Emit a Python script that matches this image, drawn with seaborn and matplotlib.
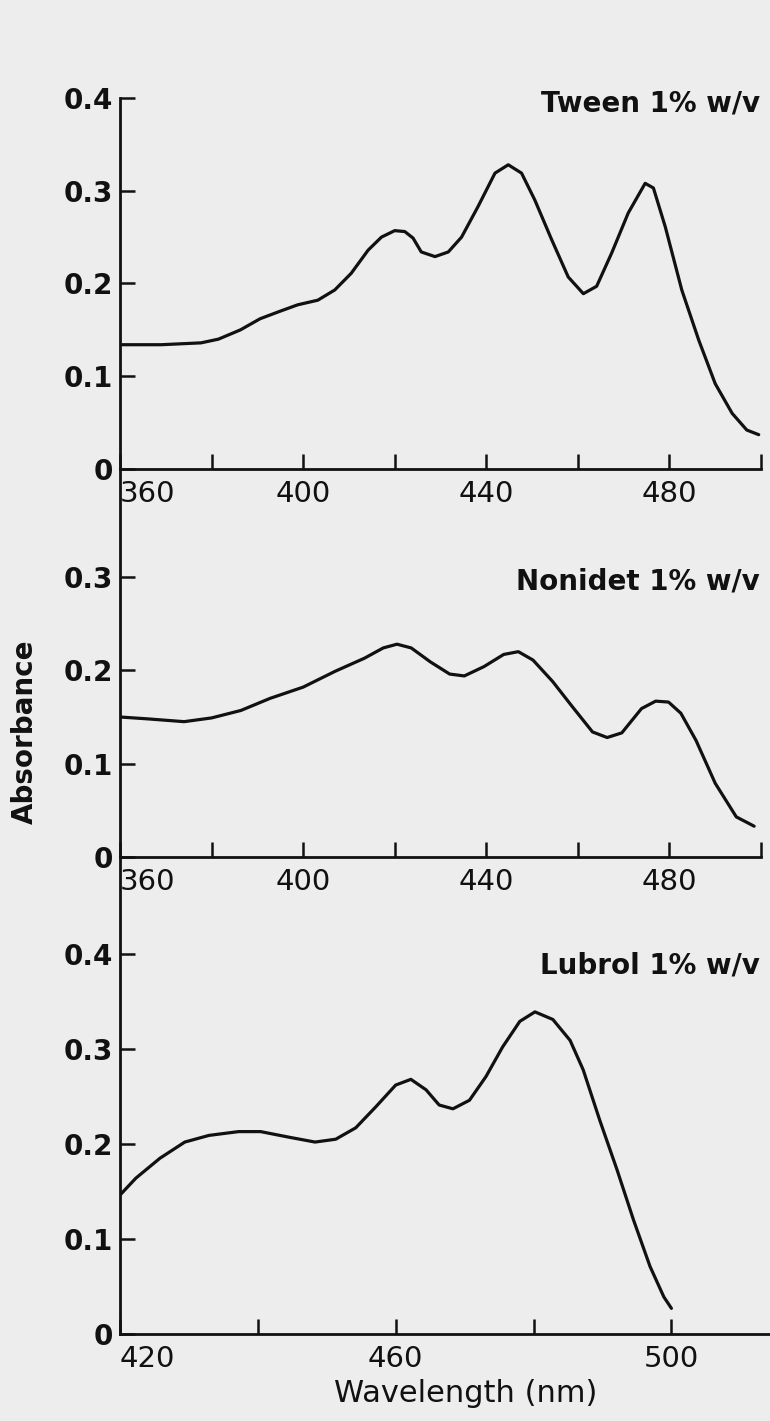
import numpy as np
import pandas as pd
import matplotlib
matplotlib.use("Agg")
import matplotlib.pyplot as plt
import seaborn as sns

# ---------------- data ----------------
tween_nm = [360.5, 369, 377.7, 381.5, 386.3, 390.6, 394.9, 398.8, 403.2, 406.9,
            410.5, 414.2, 417.1, 420, 422.2, 424, 425.8, 428.8, 431.7, 434.6,
            438.2, 441.9, 444.8, 447.7, 450.6, 454.3, 457.9, 461.2, 464.1, 467.4,
            471, 474.7, 476.5, 479.1, 482.7, 486.4, 490, 493.7, 496.9, 499.5]
tween_abs = [0.134, 0.134, 0.136, 0.140, 0.150, 0.162, 0.170, 0.177, 0.182, 0.193,
             0.211, 0.236, 0.250, 0.257, 0.256, 0.249, 0.234, 0.229, 0.234, 0.250,
             0.283, 0.319, 0.328, 0.319, 0.290, 0.247, 0.207, 0.189, 0.197, 0.233,
             0.276, 0.308, 0.303, 0.261, 0.193, 0.139, 0.092, 0.060, 0.042, 0.037]

nonidet_nm = [360, 366, 374, 380, 386.4, 392.8, 400, 407, 413.4, 417.5,
              420.5, 423.6, 427.8, 432, 435.2, 439.5, 443.8, 447, 450.2, 454.5,
              458.8, 463.2, 466.4, 469.6, 473.9, 477, 479.8, 482.5, 485.8, 490,
              494.6, 498.5]
nonidet_abs = [0.150, 0.148, 0.145, 0.149, 0.157, 0.170, 0.182, 0.199, 0.213, 0.224,
               0.228, 0.224, 0.209, 0.196, 0.194, 0.204, 0.217, 0.220, 0.211, 0.188,
               0.161, 0.134, 0.128, 0.133, 0.159, 0.167, 0.166, 0.154, 0.125, 0.079,
               0.043, 0.033]

lubrol_nm = [420.1, 422.3, 425.8, 429.4, 432.9, 437.2, 440.4, 444.6, 448.3, 451.3,
             454.2, 457.1, 460, 462.2, 464.4, 466.3, 468.3, 470.7, 473.1, 475.5,
             478, 480.2, 482.8, 485.3, 487.2, 489.6, 492.1, 494.5, 496.9, 498.9,
             500]
lubrol_abs = [0.147, 0.164, 0.185, 0.202, 0.209, 0.213, 0.213, 0.207, 0.202, 0.205,
              0.217, 0.239, 0.262, 0.268, 0.257, 0.241, 0.237, 0.246, 0.271, 0.302,
              0.329, 0.339, 0.331, 0.309, 0.278, 0.225, 0.173, 0.120, 0.071, 0.039,
              0.027]

panel_labels = ["Tween 1% w/v", "Nonidet 1% w/v", "Lubrol 1% w/v"]
xticks_top = [360, 380, 400, 420, 440, 460, 480, 500]
xticklabels_top = ["360", "", "400", "", "440", "", "480", ""]
xticks_bot = [420, 440, 460, 480, 500]
xticklabels_bot = ["420", "", "460", "", "500"]
yticks_1 = [0, 0.1, 0.2, 0.3, 0.4]
yticks_2 = [0, 0.1, 0.2, 0.3]
yticks_3 = [0, 0.1, 0.2, 0.3, 0.4]
yticklabels_1 = ["0", "0.1", "0.2", "0.3", "0.4"]
yticklabels_2 = ["0", "0.1", "0.2", "0.3"]
yticklabels_3 = ["0", "0.1", "0.2", "0.3", "0.4"]

# ---------------- style ----------------
sns.set_theme(style="white")
plt.rcParams["font.family"] = ["DejaVu Sans"]
BG = "#ededed"
INK = "#111111"

W, H = 770, 1421
fig = plt.figure(figsize=(W / 100, H / 100), dpi=100, facecolor=BG)


def add_ax(left, right, top, bottom):
    return fig.add_axes([left / W, 1 - bottom / H, (right - left) / W, (bottom - top) / H])


ax1 = add_ax(120, 761, 98, 469)
ax2 = add_ax(120, 761, 469, 857)
ax3 = add_ax(120, 770, 857, 1334)

datasets = [
    (ax1, tween_nm, tween_abs, (360, 500), (0, 0.4), xticks_top, xticklabels_top, yticks_1, yticklabels_1, 103),
    (ax2, nonidet_nm, nonidet_abs, (360, 500), (0, 0.4157), xticks_top, xticklabels_top, yticks_2, yticklabels_2, 582),
    (ax3, lubrol_nm, lubrol_abs, (420, 514.3), (0, 0.502), xticks_bot, xticklabels_bot, yticks_3, yticklabels_3, 965),
]

for (ax, xs, ys, xl, yl, xt, xtl, yt, ytl, label_y), lab in zip(datasets, panel_labels):
    ax.set_facecolor("none")
    df = pd.DataFrame({"nm": xs, "A": ys})
    sns.lineplot(data=df, x="nm", y="A", ax=ax, color=INK, linewidth=2.3, legend=False)
    ax.set_xlim(*xl)
    ax.set_ylim(*yl)
    ax.set_xticks(xt)
    ax.set_xticklabels(xtl)
    ax.set_yticks(yt)
    ax.set_yticklabels(ytl)
    ax.set_xlabel("")
    ax.set_ylabel("")
    for s in ["top", "right"]:
        ax.spines[s].set_visible(False)
    for s in ["left", "bottom"]:
        ax.spines[s].set_linewidth(2.0)
        ax.spines[s].set_color(INK)
    ax.tick_params(axis="x", bottom=True, direction="in", length=11, width=1.8, color=INK,
                   pad=8, labelsize=21, labelcolor=INK)
    ax.tick_params(axis="y", left=True, direction="in", length=11, width=1.8, color=INK,
                   pad=5, labelsize=20, labelcolor=INK)
    for t in ax.get_yticklabels():
        t.set_fontweight("bold")
    # first x tick label sits to the right of the axis origin
    ax.get_xticklabels()[0].set_horizontalalignment("left")
    fig.text(760 / W, 1 - label_y / H, lab, ha="right", va="center",
             fontsize=20, fontweight="bold", color=INK)

fig.text(25 / W, 1 - 732 / H, "Absorbance", rotation=90, ha="center", va="center",
         fontsize=20, fontweight="bold", color=INK)
fig.text(466 / W, 1 - 1393 / H, "Wavelength (nm)", ha="center", va="center",
         fontsize=22, color=INK)

fig.savefig("out.png", dpi=100, facecolor=BG)
